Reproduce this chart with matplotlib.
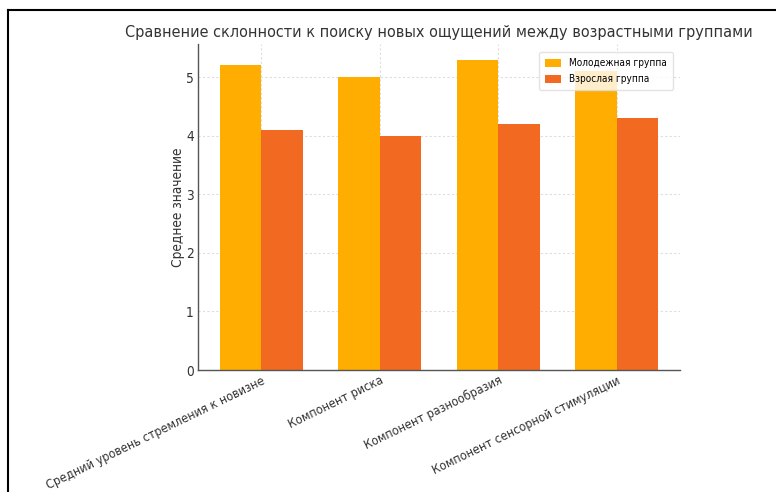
import matplotlib
matplotlib.use("Agg")
import matplotlib.pyplot as plt
from matplotlib.lines import Line2D
import numpy as np

categories = [
    "Средний уровень стремления к новизне",
    "Компонент риска",
    "Компонент разнообразия",
    "Компонент сенсорной стимуляции",
]
young_values = [5.2, 5.0, 5.3, 5.1]
adult_values = [4.1, 4.0, 4.2, 4.3]
series_names = ["Молодежная группа", "Взрослая группа"]
title = "Сравнение склонности к поиску новых ощущений между возрастными группами"
y_label = "Среднее значение"

young_color = "#FFAD01"
adult_color = "#F26A21"
text_color = "#333333"

plt.rcParams["font.family"] = ["DejaVu Sans"]
plt.rcParams["font.stretch"] = "condensed"

W, H = 776, 492
fig = plt.figure(figsize=(W / 100, H / 100), dpi=100)
ax = fig.add_axes([198 / W, 1 - 370 / H, (680 - 198) / W, (370 - 44) / H])

x = np.arange(len(categories))
width = 0.35
ax.bar(x - width / 2, young_values, width, color=young_color, label=series_names[0], zorder=2)
ax.bar(x + width / 2, adult_values, width, color=adult_color, label=series_names[1], zorder=2)

ax.set_xticks(x)
ax.set_xticklabels(categories, rotation=26, ha="right", rotation_mode="anchor",
                   fontsize=9.0, color=text_color, fontstretch="condensed")
ax.set_yticks(range(6))
ax.set_yticklabels([str(v) for v in range(6)], fontstretch="condensed")
ax.tick_params(axis="y", labelsize=9.8, colors=text_color, length=0, pad=3)
ax.tick_params(axis="x", length=0, pad=3)

ax.grid(True, color="#dddddd", linestyle=(0, (2, 2)), linewidth=0.8, zorder=0)
ax.set_axisbelow(True)
for side in ("top", "right"):
    ax.spines[side].set_visible(False)
for side in ("left", "bottom"):
    ax.spines[side].set_color("#555555")
    ax.spines[side].set_linewidth(1.0)

ax.set_ylabel(y_label, fontsize=9.8, color=text_color, labelpad=1,
              fontstretch="condensed")
ax.set_title(title, fontsize=11.6, color=text_color, pad=5, fontstretch="condensed")

leg = ax.legend(loc="upper right", frameon=True, framealpha=0.8,
                prop={"size": 7.2, "stretch": "condensed"},
                edgecolor="#dddddd", handlelength=1.6, handleheight=0.9,
                borderpad=0.6, labelspacing=0.6, bbox_to_anchor=(0.995, 0.99))

# page frame: top and left edges
fig.add_artist(Line2D([8 / W, 1], [1 - 10 / H, 1 - 10 / H], color="black", linewidth=1.5))
fig.add_artist(Line2D([8 / W, 8 / W], [0, 1 - 10 / H], color="black", linewidth=1.5))

fig.savefig("out.png", dpi=100)
